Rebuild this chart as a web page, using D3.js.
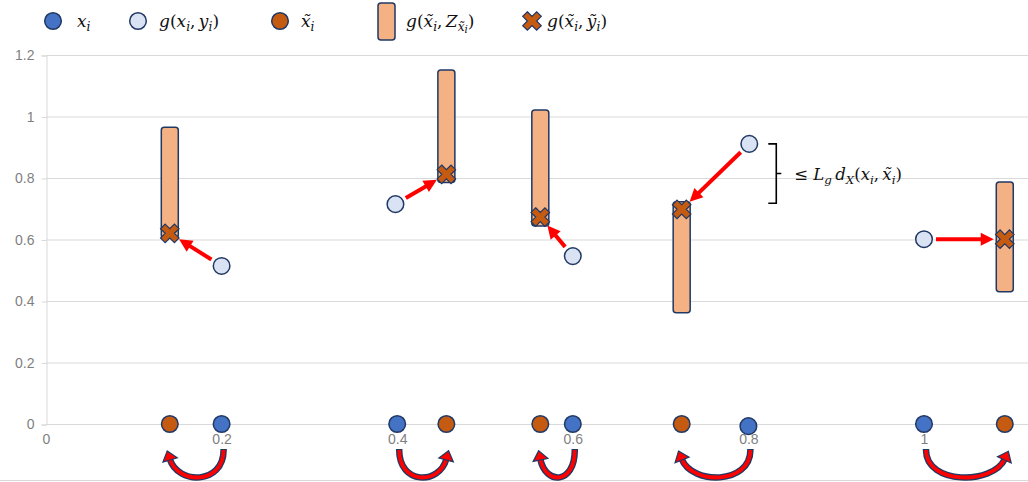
<!DOCTYPE html>
<html>
<head>
<meta charset="utf-8">
<script src="https://cdn.jsdelivr.net/npm/d3@7"></script>
<style>
  html, body { margin: 0; padding: 0; background: #fff; }
  svg { display: block; }
</style>
</head>
<body>
<div id="chart"></div>
<script>
// ---- data ----
const xTickValues = [0, 0.2, 0.4, 0.6, 0.8, 1];
const xTickLabels = ["0", "0.2", "0.4", "0.6", "0.8", "1"];
const yTickValues = [0, 0.2, 0.4, 0.6, 0.8, 1, 1.2];
const yTickLabels = ["0", "0.2", "0.4", "0.6", "0.8", "1", "1.2"];

// original points x_i (on the axis)
const xOrig   = [0.2, 0.4, 0.6, 0.8, 1.0];
const xOrigY  = [0, 0, 0, -0.007, 0];
// perturbed points x~_i
const xTilde  = [0.141, 0.456, 0.563, 0.724, 1.092];
// g(x_i, y_i)
const gX      = [0.2, 0.398, 0.6, 0.801, 1.0];
const gY      = [0.514, 0.715, 0.546, 0.911, 0.601];
// g(x~_i, Z_x~_i) ranges
const zLow    = [0.605, 0.785, 0.644, 0.362, 0.430];
const zHigh   = [0.965, 1.151, 1.021, 0.723, 0.787];
// g(x~_i, y~_i)
const crossY  = [0.620, 0.812, 0.673, 0.698, 0.601];

// ---- layout ----
const W = 1028, H = 482;
const colors = {
  blue: "#4472C4", light: "#DAE3F3", orange: "#C55A11", bar: "#F4B183",
  outline: "#203864", grid: "#D9D9D9", tick: "#7F7F7F", red: "#FF0000", text: "#111"
};

const svg = d3.select("#chart").append("svg").attr("width", W).attr("height", H);

const x = d3.scaleLinear().domain([0, 1.12]).range([46, 46 + 1.12 * 878]);
const y = d3.scaleLinear().domain([0, 1.2]).range([424, 55]);

// gridlines
svg.append("g").selectAll("line").data(yTickValues).join("line")
  .attr("x1", x(0)).attr("x2", W)
  .attr("y1", d => y(d) + 0.5).attr("y2", d => y(d) + 0.5)
  .attr("stroke", colors.grid).attr("stroke-width", 1);

// y axis
const yAxis = d3.axisLeft(y).tickValues(yTickValues)
  .tickFormat((d, i) => yTickLabels[i]).tickSize(5).tickPadding(7);
const gy = svg.append("g").attr("transform", `translate(${x(0) + 0.5},0.5)`).call(yAxis);
gy.select(".domain").attr("stroke", colors.grid);
gy.selectAll(".tick line").attr("stroke", colors.grid);
gy.selectAll(".tick text").attr("fill", colors.tick)
  .style("font-family", "'Liberation Sans', Arial, sans-serif").style("font-size", "14px");

// x axis labels
const xAxis = d3.axisBottom(x).tickValues(xTickValues)
  .tickFormat((d, i) => xTickLabels[i]).tickSize(0).tickPadding(10);
const gx = svg.append("g").attr("transform", `translate(0,${y(0) + 0.5})`).call(xAxis);
gx.select(".domain").remove();
gx.selectAll(".tick text").attr("fill", colors.tick)
  .style("font-family", "'Liberation Sans', Arial, sans-serif").style("font-size", "14px");

// bottom frame line
svg.append("line").attr("x1", 0).attr("x2", W).attr("y1", 480.5).attr("y2", 480.5)
  .attr("stroke", colors.grid);

// ---- helpers ----
const crossPath = d3.symbol(d3.symbolCross, 215)();

function drawCross(g, cx, cy) {
  g.append("path").attr("d", crossPath)
    .attr("transform", `translate(${cx},${cy}) rotate(45)`)
    .attr("fill", colors.orange).attr("stroke", colors.outline).attr("stroke-width", 1.2);
}
function drawCircle(g, cx, cy, fill) {
  g.append("circle").attr("cx", cx).attr("cy", cy).attr("r", 8.3)
    .attr("fill", fill).attr("stroke", colors.outline).attr("stroke-width", 1.5);
}
function straightArrow(g, x1, y1, x2, y2) {
  const dx = x2 - x1, dy = y2 - y1, L = Math.hypot(dx, dy);
  const ux = dx / L, uy = dy / L;
  const sx = x1 + ux * 12, sy = y1 + uy * 12;
  const tx = x2 - ux * 11, ty = y2 - uy * 11;
  const hl = 13, hw = 6.5;
  const bx = tx - ux * hl, by = ty - uy * hl;
  g.append("line").attr("x1", sx).attr("y1", sy).attr("x2", bx + ux * 1).attr("y2", by + uy * 1)
    .attr("stroke", colors.red).attr("stroke-width", 4);
  g.append("path")
    .attr("d", `M${tx},${ty}L${bx - uy * hw},${by + ux * hw}L${bx + uy * hw},${by - ux * hw}Z`)
    .attr("fill", colors.red);
}
function curvedArrow(g, s, e) {
  const y0 = 450, y1 = 459, cy = 485;
  const c2x = e + 0.15 * (s - e);
  const d = `M${s},${y0}C${s},${cy} ${c2x},${cy} ${e},${y1}`;
  g.append("path").attr("d", `M${s},${y0 - 1}L${s},${y0}C${s},${cy} ${c2x},${cy} ${e},${y1}`)
    .attr("fill", "none").attr("stroke", colors.outline).attr("stroke-width", 6.5);
  g.append("path").attr("d", d).attr("fill", "none")
    .attr("stroke", colors.red).attr("stroke-width", 3.8);
  const tx0 = e - c2x, ty0 = y1 - cy, L = Math.hypot(tx0, ty0);
  const ux = tx0 / L, uy = ty0 / L;
  const hl = 8.5, hw = 7.5;
  const tipx = e + ux * hl, tipy = y1 + uy * hl;
  const bx = e - ux * 1, by = y1 - uy * 1;
  g.append("path")
    .attr("d", `M${tipx},${tipy}L${bx - uy * hw},${by + ux * hw}L${bx + uy * hw},${by - ux * hw}Z`)
    .attr("fill", colors.red).attr("stroke", colors.outline).attr("stroke-width", 1.2)
    .attr("stroke-linejoin", "miter");
}

// math-style text: parts are [text, italic, level]
function mathText(g, x0, y0, parts, size) {
  const offs = [0, 0.25 * size, 0.4 * size];
  const sizes = [size, 0.72 * size, 0.6 * size];
  const t = g.append("text").attr("x", x0).attr("y", y0)
    .attr("fill", colors.text)
    .style("font-family", "'DejaVu Serif', 'Liberation Serif', serif");
  let level = 0;
  parts.forEach(([str, it, lv]) => {
    t.append("tspan").attr("dy", offs[lv] - offs[level])
      .style("font-size", sizes[lv] + "px")
      .style("font-style", it ? "italic" : "normal")
      .text(str);
    level = lv;
  });
  return t;
}

// ---- marks ----
const marks = svg.append("g");

// curved arrows along the axis (x_i -> x~_i)
xOrig.forEach((v, i) => curvedArrow(marks, x(v) + 2, x(xTilde[i])));

// Z ranges
marks.selectAll("rect.z").data(zLow).join("rect").attr("class", "z")
  .attr("x", (d, i) => x(xTilde[i]) - 8.5)
  .attr("width", 17)
  .attr("y", (d, i) => y(zHigh[i]))
  .attr("height", (d, i) => y(d) - y(zHigh[i]))
  .attr("rx", 3).attr("ry", 3)
  .attr("fill", colors.bar).attr("stroke", colors.outline).attr("stroke-width", 1.5);

// red arrows from g(x_i,y_i) to g(x~_i,y~_i)
gX.forEach((v, i) => straightArrow(marks, x(v), y(gY[i]), x(xTilde[i]), y(crossY[i])));

// crosses
crossY.forEach((v, i) => drawCross(marks, x(xTilde[i]), y(v)));

// g(x_i, y_i) circles
gX.forEach((v, i) => drawCircle(marks, x(v), y(gY[i]), colors.light));

// points on the axis
xTilde.forEach(v => drawCircle(marks, x(v), y(0), colors.orange));
xOrig.forEach((v, i) => drawCircle(marks, x(v), y(xOrigY[i]), colors.blue));

// ---- bound annotation ----
const bi = 3;
const bTop = y(gY[bi]), bBot = y(zHigh[bi]) + 1.5, bx = x(gX[bi]) + 19;
const bMid = (bTop + bBot) / 2;
svg.append("path")
  .attr("d", `M${bx},${bTop}L${bx + 8},${bTop}L${bx + 8},${bBot}L${bx},${bBot}M${bx + 8},${bMid}L${bx + 13},${bMid}`)
  .attr("fill", "none").attr("stroke", "#000").attr("stroke-width", 1.6);
mathText(svg, bx + 26, bMid + 6, [
  ["≤ ", false, 0], ["L", true, 0], ["g", true, 1], ["\u2009d", true, 0], ["X", true, 1],
  ["(", false, 0], ["x", true, 0], ["i", true, 1], [",\u2009", false, 0], ["x\u0303", true, 0], ["i", true, 1], [")", false, 0]
], 16.5);

// ---- legend ----
const leg = svg.append("g");
const ly = 21, lt = 26.5;
drawCircle(leg, 53, ly, colors.blue);
mathText(leg, 77, lt, [["x", true, 0], ["i", true, 1]], 17);
drawCircle(leg, 138, ly, colors.light);
mathText(leg, 159, lt, [["g", true, 0], ["(", false, 0], ["x", true, 0], ["i", true, 1], [",\u2009", false, 0],
  ["y", true, 0], ["i", true, 1], [")", false, 0]], 17);
drawCircle(leg, 280, ly, colors.orange);
mathText(leg, 301, lt, [["x\u0303", true, 0], ["i", true, 1]], 17);
leg.append("rect").attr("x", 378).attr("y", 3).attr("width", 17).attr("height", 37)
  .attr("rx", 3).attr("ry", 3)
  .attr("fill", colors.bar).attr("stroke", colors.outline).attr("stroke-width", 1.5);
mathText(leg, 406, lt, [["g", true, 0], ["(", false, 0], ["x\u0303", true, 0], ["i", true, 1], [",\u2009", false, 0],
  ["Z", true, 0], ["x\u0303", true, 1], ["i", true, 2], [")", false, 0]], 17);
drawCross(leg, 532, ly);
mathText(leg, 547, lt, [["g", true, 0], ["(", false, 0], ["x\u0303", true, 0], ["i", true, 1], [",\u2009", false, 0],
  ["y\u0303", true, 0], ["i", true, 1], [")", false, 0]], 17);
</script>
</body>
</html>
